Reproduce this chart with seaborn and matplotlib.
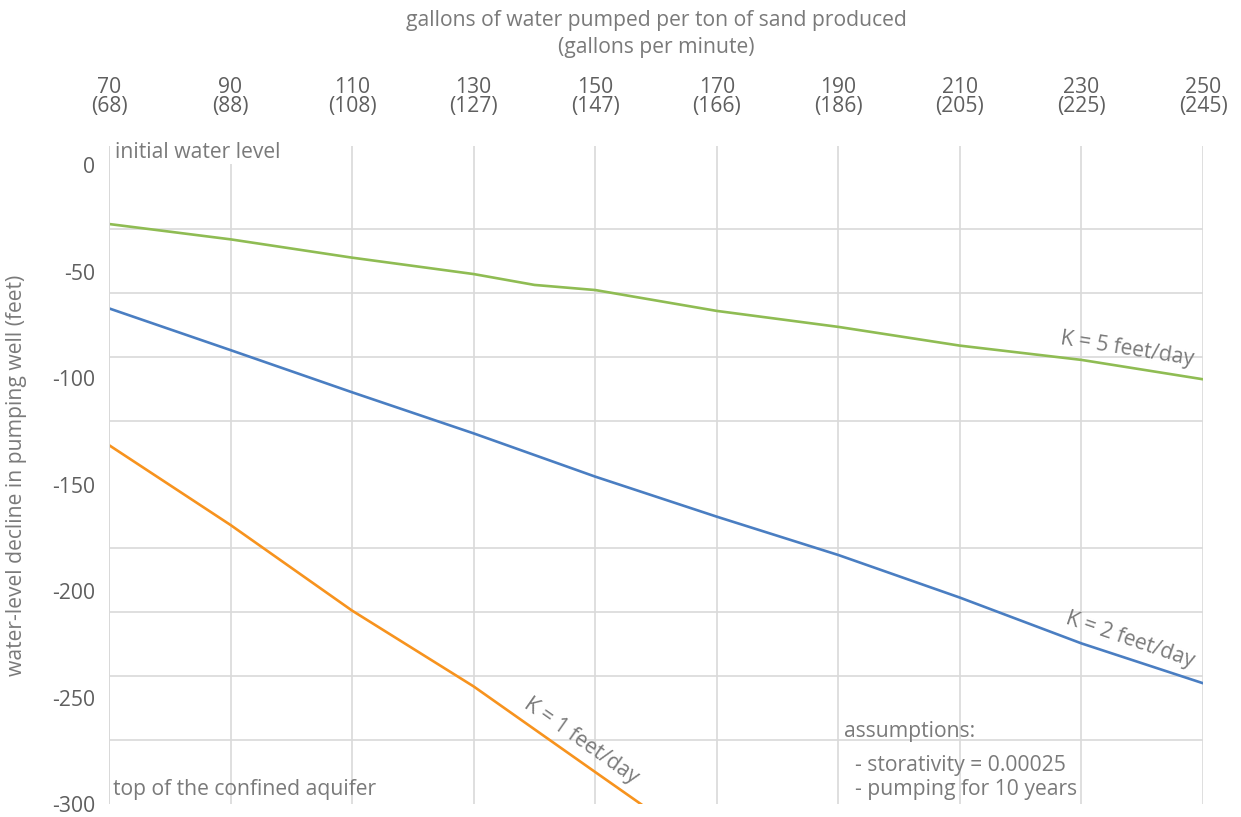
import pandas as pd
import seaborn as sns
import matplotlib.pyplot as plt
from matplotlib.ticker import MultipleLocator

# Datos: descenso del nivel del agua (pies) segun galones por tonelada
x_k5 = [70, 90, 110, 130, 140, 150, 170, 190, 210, 230, 250]
y_k5 = [-27.7, -34.9, -43.5, -51.2, -56.3, -58.7, -68.5, -76.0, -84.8, -91.5, -100.6]

x_k2 = [70, 90, 110, 130, 150, 170, 190, 210, 230, 250]
y_k2 = [-67.3, -86.9, -106.7, -126.0, -146.3, -165.1, -183.1, -203.1, -224.6, -243.3]

x_k1 = [70, 90, 110, 130, 150, 170]
y_k1 = [-131.5, -169.0, -209.2, -244.8, -285.0, -325.0]

# Etiquetas del eje superior
gal_por_ton = [70, 90, 110, 130, 150, 170, 190, 210, 230, 250]
gal_por_min = [68, 88, 108, 127, 147, 166, 186, 205, 225, 245]

series = ["K = 5 feet/day", "K = 2 feet/day", "K = 1 feet/day"]
colores = ["#8fbc53", "#4a7ec2", "#f7931e"]

df = pd.concat([
    pd.DataFrame({"x": x_k5, "y": y_k5, "serie": series[0]}),
    pd.DataFrame({"x": x_k2, "y": y_k2, "serie": series[1]}),
    pd.DataFrame({"x": x_k1, "y": y_k1, "serie": series[2]}),
])

sns.set_style("white")
plt.rcParams["font.family"] = ["Open Sans", "DejaVu Sans"]
plt.rcParams["axes.unicode_minus"] = False

gris_tick = "#5f5f5f"
gris_txt = "#7a7a7a"
gris_grid = "#d9d9d9"
fs = 15.2

fig = plt.figure(figsize=(12.41, 8.17), dpi=100)
ax = fig.add_axes([0.0878, 0.0159, 0.9694 - 0.0878, 0.8215 - 0.0159])

sns.lineplot(data=df, x="x", y="y", hue="serie", palette=colores,
             linewidth=1.9, legend=False, ax=ax, sort=False)

ax.set_xlim(70, 250)
ax.set_ylim(-300, 9)

# Rejilla: verticales cada 20, horizontales cada 30; etiquetas y cada 50
ax.set_xticks(gal_por_ton)
ax.set_xticklabels([f"{a}\n({b})" for a, b in zip(gal_por_ton, gal_por_min)],
                   linespacing=0.85)
ax.yaxis.set_major_locator(MultipleLocator(50))
ax.set_yticks(range(0, -301, -30), minor=True)
ax.grid(False)
ax.grid(True, which="minor", axis="y", color=gris_grid, linewidth=1.2)
ax.grid(True, which="major", axis="x", color=gris_grid, linewidth=1.2)
ax.xaxis.tick_top()
ax.xaxis.set_label_position("top")
ax.tick_params(axis="x", which="both", length=0, pad=21, labelsize=fs, labelcolor=gris_tick)
ax.tick_params(axis="y", which="both", length=0, pad=10, labelsize=fs, labelcolor=gris_tick)
for s in ax.spines.values():
    s.set_visible(False)
ax.axvline(70, color=gris_grid, linewidth=1.4, ymax=1)

ax.set_xlabel("gallons of water pumped per ton of sand produced\n(gallons per minute)",
              fontsize=fs, color=gris_txt, labelpad=17, linespacing=1.4)
ax.set_ylabel("water-level decline in pumping well (feet)", fontsize=fs,
              color=gris_txt, labelpad=18)

# Etiquetas de las curvas
ax.text(237.5, -86.5, series[0], rotation=-9, fontsize=fs, color=gris_txt,
        ha="center", va="center", rotation_mode="anchor")
ax.text(238.0, -223.0, series[1], rotation=-19, fontsize=fs, color=gris_txt,
        ha="center", va="center", rotation_mode="anchor")
ax.text(147.6, -270.5, series[2], rotation=-35, fontsize=fs, color=gris_txt,
        ha="center", va="center", rotation_mode="anchor")

# Anotaciones
ax.text(71, 6, "initial water level", fontsize=fs, color=gris_txt, ha="left", va="center",
        bbox=dict(facecolor="white", edgecolor="none", pad=1))
ax.text(70.7, -293, "top of the confined aquifer", fontsize=fs, color=gris_txt,
        ha="left", va="center")
ax.text(191, -266, "assumptions:", fontsize=fs, color=gris_txt, ha="left", va="center")
ax.text(192.7, -282, "- storativity = 0.00025", fontsize=fs, color=gris_txt,
        ha="left", va="center")
ax.text(192.7, -293, "- pumping for 10 years", fontsize=fs, color=gris_txt,
        ha="left", va="center")

fig.savefig("out.png", dpi=100)
